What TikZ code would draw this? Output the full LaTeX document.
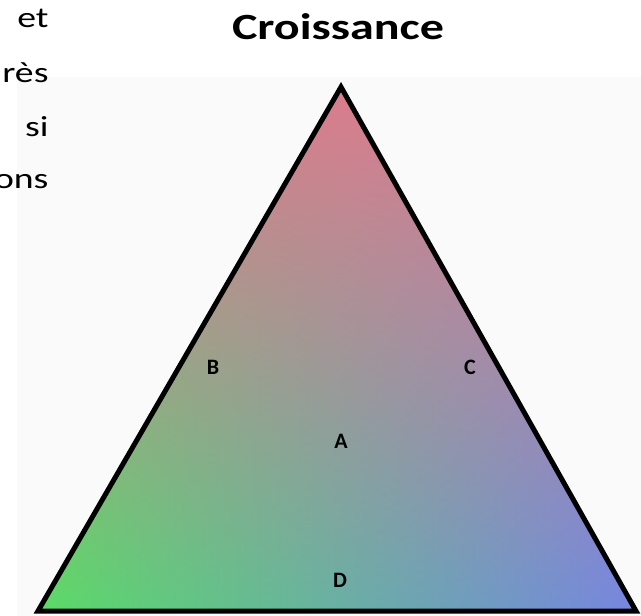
\documentclass[tikz,border=0pt]{standalone}
\usepackage{fontspec}
\setmainfont{Carlito}
\newfontfamily\widefont[FakeStretch=1.3]{Carlito}
\usetikzlibrary{fadings}

\definecolor{apexred}{HTML}{DC7C8C}
\definecolor{leftgreen}{HTML}{5ADC66}
\definecolor{midteal}{HTML}{96D0C2}
\definecolor{rightblue}{HTML}{7686E2}
\definecolor{backdrop}{HTML}{FAFAFA}
\tikzfading[name=redfade, top color=transparent!0, middle color=transparent!38, bottom color=transparent!100]

\begin{document}
\begin{tikzpicture}[x=1pt, y=-1pt,
    lettre/.style={font=\fontsize{22}{22}\selectfont\bfseries},
    sidetext/.style={font=\widefont\fontsize{29}{29}\selectfont, anchor=base east}]
    \useasboundingbox (0,0) rectangle (641,616);
    \fill[backdrop] (17,77) rectangle (641,616);

    % Corners
    \coordinate (top) at (341,87);
    \coordinate (left) at (38,611);
    \coordinate (right) at (636,611);

    % Colour fill
    \begin{scope}
        \clip (top) -- (right) -- (left) -- cycle;
        \shade[left color=leftgreen, middle color=midteal, right color=rightblue] (38,87) rectangle (636,611);
        \fill[apexred, path fading=redfade] (38,87) rectangle (636,611);
    \end{scope}

    % Outline
    \draw[line width=5pt, line join=miter] (top) -- (right) -- (left) -- cycle;

    % Title and cut text
    \node[font=\widefont\bfseries\fontsize{37}{37}\selectfont, anchor=base] (title) at (338,39) {Croissance};
    \node[sidetext] (s1) at (52,27) {et};
    \node[sidetext] (s2) at (52,82) {rès};
    \node[sidetext] (s3) at (52,136) {si};
    \node[sidetext] (s4) at (52,188) {ons};

    % Letters
    \node[lettre] (B) at (213,367) {B};
    \node[lettre] (C) at (470,367) {C};
    \node[lettre] (A) at (341,441) {A};
    \node[lettre] (D) at (340,580) {D};

\end{tikzpicture}
\end{document}
